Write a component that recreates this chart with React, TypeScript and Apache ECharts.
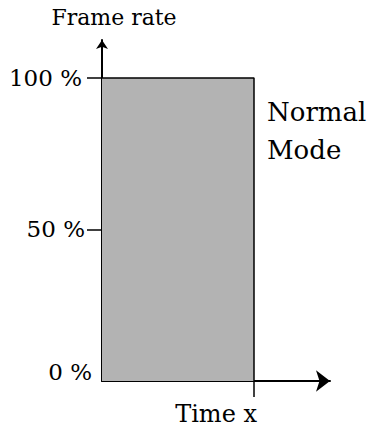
import React, { useEffect, useRef } from 'react';
import * as echarts from 'echarts';

const timePoints = [0, 2, 2];
const frameRatePct = [100, 100, 0];
const yLabelValues = [0, 50, 100];
const yTickValues = [50, 100];
const xTickValues = [2];
const xTickLabel = 'Time x';
const yAxisTitle = 'Frame rate';
const modeLabel = ['Normal', 'Mode'];

const FONT = 'DejaVu Serif';

export default function App() {
  const ref = useRef<HTMLDivElement>(null);
  useEffect(() => {
    const chart = echarts.init(ref.current!, null, { renderer: 'svg' });
    chart.setOption({
      animation: false,
      backgroundColor: '#ffffff',
      grid: { left: 102, right: 41, top: 40, bottom: 48 },
      xAxis: {
        type: 'value',
        min: 0,
        max: 3,
        axisLine: {
          show: true,
          symbol: ['none', 'arrow'],
          symbolSize: [16, 14],
          lineStyle: { color: '#000', width: 2 },
        },
        axisTick: {
          show: true,
          customValues: xTickValues,
          length: 16,
          lineStyle: { color: '#000', width: 1.5 },
        },
        axisLabel: {
          customValues: xTickValues,
          formatter: () => xTickLabel,
          color: '#000',
          fontFamily: FONT,
          fontSize: 24,
          align: 'right',
          padding: [0, -3, 0, 0],
          margin: 21,
        },
        splitLine: { show: false },
      },
      yAxis: {
        type: 'value',
        min: 0,
        max: 112.5,
        name: yAxisTitle,
        nameLocation: 'end',
        nameGap: 12,
        nameTextStyle: {
          color: '#000',
          fontFamily: FONT,
          fontSize: 22,
          align: 'center',
          padding: [0, 0, 0, 24],
        },
        axisLine: {
          show: true,
          symbol: ['none', 'arrow'],
          symbolSize: [9, 9],
          lineStyle: { color: '#000', width: 2 },
        },
        axisTick: {
          show: true,
          customValues: yTickValues,
          length: 15,
          lineStyle: { color: '#000', width: 1.5 },
        },
        axisLabel: {
          customValues: yLabelValues,
          margin: 10,
          formatter: (v: number) => `{v${v}|${v} %}`,
          rich: {
            v0: { fontFamily: FONT, fontSize: 23, color: '#000', padding: [0, 0, 18, 0] },
            v50: { fontFamily: FONT, fontSize: 23, color: '#000', padding: [0, 7, 0, 0] },
            v100: { fontFamily: FONT, fontSize: 23, color: '#000', padding: [0, 10, 0, 0] },
          },
        },
        splitLine: { show: false },
      },
      series: [
        {
          type: 'line',
          data: timePoints.map((t, i) => [t, frameRatePct[i]]),
          symbol: 'none',
          lineStyle: { color: '#000', width: 1.5 },
          areaStyle: { color: '#b3b3b3', opacity: 1 },
          z: 1,
        },
      ],
      graphic: [
        {
          type: 'text',
          left: 267,
          top: 93,
          style: {
            text: modeLabel.join('\n'),
            font: `26px "${FONT}"`,
            lineHeight: 38,
            fill: '#000',
          },
        },
      ],
    });
    return () => chart.dispose();
  }, []);
  return (
    <div
      ref={ref}
      style={{ position: 'fixed', left: 0, top: 0, width: 371, height: 429 }}
    />
  );
}
